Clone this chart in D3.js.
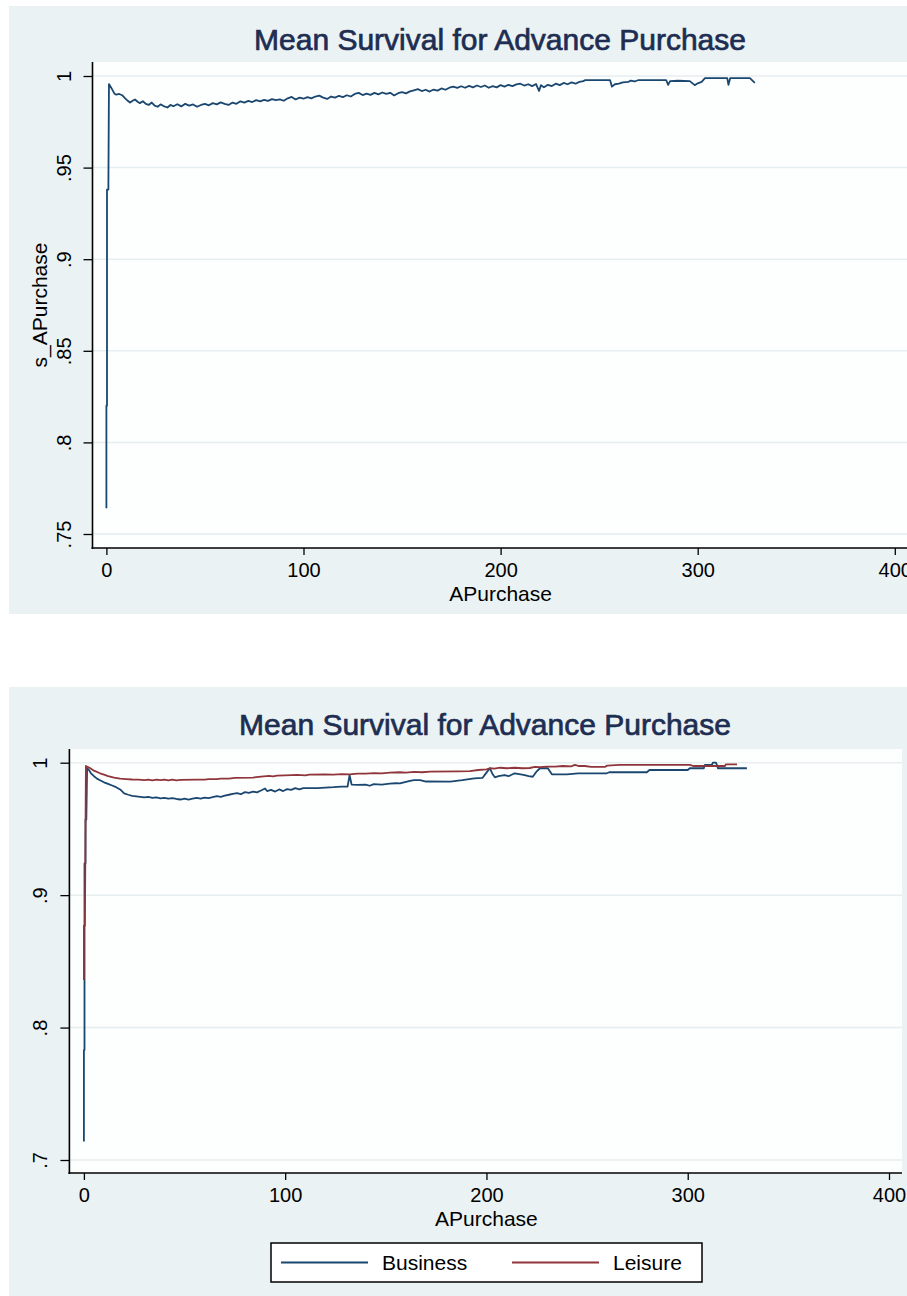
<!DOCTYPE html>
<html>
<head>
<meta charset="utf-8">
<script src="https://cdn.jsdelivr.net/npm/d3@7"></script>
<style>
  body { margin: 0; background: #fff; }
  text { font-family: "Liberation Sans", Arial, sans-serif; }
</style>
</head>
<body>
<div id="chart"></div>
<script>
// values
const chartTitle = "Mean Survival for Advance Purchase";
const xLabel = "APurchase";
const yLabelTop = "s_APurchase";
const xTicks = [0, 100, 200, 300, 400];
const topYTicks = [0.75, 0.8, 0.85, 0.9, 0.95, 1];
const bottomYTicks = [0.7, 0.8, 0.9, 1];
const seriesNames = ["Business", "Leisure"];

// [APurchase, survival]
const overall = [
  [0,.764],[0,.82],[0.3,.82],[0.3,.938],[1,.938],[1.3,.9956],[2.5,.9935],[4,.9905],[5,.9898],[6.5,.9902],
  [8,.9895],[9.5,.9878],[10.5,.9868],[12,.9855],[13.5,.9866],[14.5,.9872],[16,.9858],[17,.9852],[18.5,.9862],[20,.9848],
  [21.5,.9842],[23,.9855],[24.5,.9838],[26,.9832],[27.5,.9845],[29,.9836],[31,.9828],[32.5,.9842],[34,.9835],[36,.9846],
  [38,.9834],[40,.9848],[42,.9838],[44,.9845],[46,.9832],[48,.9842],[50,.9848],[52,.984],[54,.9852],[56,.9845],
  [58,.9856],[60,.9848],[62,.9842],[64,.9855],[66,.9848],[68,.9862],[70,.9855],[72,.9864],[74,.9858],[76,.9868],
  [78,.9862],[80,.987],[82,.9864],[84,.9874],[86,.9868],[88,.9872],[90,.9865],[92,.9878],[94,.9886],[96,.9872],
  [98,.9882],[100,.9876],[102,.9885],[104,.9878],[106,.9888],[108,.9893],[110,.9882],[112,.9875],[114,.9888],[116,.9882],
  [118,.9892],[120,.9885],[122,.9895],[124,.9888],[126,.9902],[128,.9908],[130,.9896],[132,.9904],[134,.9897],[136,.9908],
  [138,.99],[140,.991],[142,.9902],[144,.9908],[146,.9894],[148,.9906],[150,.9912],[152,.9905],[154,.9916],[156,.9922],
  [158,.9928],[160,.9918],[162,.9925],[164,.9915],[166,.9926],[168,.992],[170,.9932],[172,.9925],[174,.9936],[176,.9942],
  [178,.9935],[180,.9944],[182,.9936],[184,.9946],[186,.9938],[188,.9948],[190,.994],[192,.9948],[194,.9936],[196,.9945],
  [198,.9938],[200,.995],[202,.9942],[204,.9952],[206,.9945],[208,.9954],[210,.9958],[212,.9948],[214,.9955],[216,.9945],
  [218,.9956],[219.5,.9918],[220.5,.995],[222,.9938],[224,.9952],[226,.9945],[228,.9958],[230,.995],[232,.9962],[234,.9955],
  [236,.9965],[238,.9958],[240,.9968],[242,.9972],[243,.9978],[255.5,.9978],[256.5,.9942],[258,.9955],[260,.9958],[262,.9965],
  [265,.9968],[266,.9975],[268,.997],[270,.9978],[284,.9978],[285,.9952],[286,.9972],[290,.9974],[296,.9972],[298.5,.995],
  [300,.996],[302,.9968],[303.7,.9988],[315,.9988],[315.6,.9952],[316.5,.9988],[326.5,.9988],[329,.9962]
];

const business = [
  [0,.714],[0,.783],[0.3,.783],[0.3,.924],[0.8,.924],[0.8,.957],[1.2,.957],[1.6,.996],[2.5,.9945],[3.5,.992],
  [5,.9898],[6.5,.988],[8,.9868],[10,.9852],[12,.984],[14,.9828],[16,.9815],[18,.9798],[20,.9768],[22,.9758],
  [24,.975],[26,.9746],[28,.9742],[30,.9738],[32,.9742],[34,.9735],[36,.9738],[38,.9731],[40,.9735],[42,.9728],
  [44,.9732],[46,.9726],[48,.9722],[50,.9728],[52,.9722],[54,.9728],[56,.9734],[58,.9728],[60,.9736],[62,.9732],
  [64,.974],[66,.9748],[68,.9742],[70,.9752],[72,.9758],[74,.9765],[76,.977],[78,.9762],[80,.9778],[82,.9772],
  [84,.9782],[86,.9776],[88,.979],[90,.9805],[91,.9786],[93,.9795],[95,.9782],[97,.9798],[99,.9786],[101,.98],
  [103,.9795],[105,.9808],[107,.9798],[109,.9808],[116,.9808],[120,.9812],[124,.9815],[128,.982],[131,.982],[132,.9905],
  [133,.9835],[136,.9832],[140,.9835],[142,.9826],[144,.9838],[148,.9835],[152,.9842],[155,.9845],[157,.9844],[160,.9855],
  [162,.9862],[164,.9868],[167,.9869],[170,.9858],[182,.9857],[188,.9868],[194,.9882],[198,.9885],[200,.9925],[201.7,.9958],
  [203,.9915],[204.2,.989],[206,.9898],[209,.9907],[211,.9898],[214,.992],[217,.9912],[219,.9907],[221,.9898],[223,.9894],
  [225,.9935],[226.6,.9958],[230.5,.9958],[232.5,.9912],[240,.9912],[245.5,.992],[259.8,.992],[261,.9928],[279.7,.9928],[281,.9945],
  [300,.9945],[301,.9958],[308,.9958],[308.5,.9983],[312,.9983],[312.5,1.0],[314,1.0],[314.5,.9983],[315,.9958],[329.4,.9958]
];

const leisure = [
  [0,.836],[0,.877],[0.5,.877],[1,.9975],[3,.996],[5,.994],[8,.992],[10,.991],[12,.9898],[15,.9888],
  [18,.988],[21,.9876],[24,.9873],[27,.9872],[30,.9868],[32,.9872],[34,.9866],[36,.9872],[38,.9868],[40,.9872],
  [42,.9866],[44,.9872],[46,.9866],[48,.987],[56,.9872],[60,.9872],[62,.9876],[66,.9876],[68,.988],[72,.988],
  [75,.9885],[84,.9888],[88,.9895],[92,.99],[94,.9896],[96,.9902],[100,.9905],[106,.9908],[110,.9905],[112,.991],
  [120,.9912],[124,.991],[128,.9914],[132,.9912],[136,.9918],[140,.9918],[144,.9922],[148,.992],[152,.9925],[157,.9928],
  [160,.9925],[164,.993],[168,.9928],[172,.9932],[186,.9935],[191.8,.9937],[196,.9945],[200,.995],[201.7,.9958],[204,.9955],
  [206.7,.9962],[210,.9958],[214,.9962],[218,.9958],[221.6,.996],[224,.9968],[226.6,.9966],[230,.997],[234,.997],[238,.9975],
  [242,.9972],[244,.9983],[246,.9975],[248.9,.9975],[252,.9968],[258.8,.9968],[260,.9978],[266.3,.9983],[301,.9983],[303,.9975],
  [318.5,.9975],[319,.9988],[324.5,.9988]
];

const panelColor = "#eaf2f3";
const gridColor = "#e6eef0";
const titleColor = "#1e2d52";
const lineColors = ["#1a476f", "#90353b"];
const fmt = d => String(d).replace(/^0\./, ".");

const svg = d3.select("#chart").append("svg")
  .attr("width", 907)
  .attr("height", 1296);

function drawChart(o) {
  const g = svg.append("g");

  // outer graph region + plot region
  g.append("rect")
    .attr("x", o.panel[0]).attr("y", o.panel[1])
    .attr("width", o.panel[2]).attr("height", o.panel[3])
    .attr("fill", panelColor);
  g.append("rect")
    .attr("x", o.plot.left).attr("y", o.plot.top)
    .attr("width", o.plot.right - o.plot.left).attr("height", o.plot.bottom - o.plot.top)
    .attr("fill", "#fdfefe");

  const x = d3.scaleLinear().domain([0, 400]).range(o.xRange);
  const y = d3.scaleLinear().domain(o.yDomain).range(o.yRange);

  // gridlines
  g.selectAll(".grid")
    .data(o.yTicks)
    .enter().append("line")
    .attr("x1", o.plot.left).attr("x2", o.plot.right)
    .attr("y1", d => y(d)).attr("y2", d => y(d))
    .attr("stroke", gridColor).attr("stroke-width", 1.5);

  // title
  g.append("text")
    .attr("x", o.titleX).attr("y", o.titleY)
    .attr("text-anchor", "middle")
    .attr("font-size", 30)
    .attr("fill", titleColor)
    .attr("stroke", titleColor).attr("stroke-width", 0.7)
    .text(chartTitle);

  // lines
  const line = d3.line().x(d => x(d[0])).y(d => y(d[1]));
  o.series.forEach((s, i) => {
    g.append("path")
      .datum(s.values)
      .attr("fill", "none")
      .attr("stroke", s.color)
      .attr("stroke-width", 1.8)
      .attr("stroke-linejoin", "round")
      .attr("d", line);
  });

  // x axis
  const xAxis = g.append("g")
    .attr("transform", `translate(0,${o.plot.bottom})`)
    .call(d3.axisBottom(x).tickValues(xTicks).tickSize(7).tickPadding(8).tickFormat(d3.format("d")));
  xAxis.select(".domain").remove();
  xAxis.selectAll(".tick line").attr("stroke", "#000").attr("stroke-width", 1.3);
  xAxis.selectAll(".tick text").attr("font-size", 20).attr("fill", "#000")
    .attr("font-family", "'Liberation Sans', Arial, sans-serif");
  g.append("line")
    .attr("x1", o.plot.left - 1).attr("x2", o.plot.right)
    .attr("y1", o.plot.bottom).attr("y2", o.plot.bottom)
    .attr("stroke", "#000").attr("stroke-width", 1.6);

  g.append("text")
    .attr("x", x(200)).attr("y", o.plot.bottom + 53)
    .attr("text-anchor", "middle")
    .attr("font-size", 21)
    .text(xLabel);

  // y axis, rotated labels as Stata draws them
  const yAxis = g.append("g")
    .attr("transform", `translate(${o.plot.left},0)`)
    .call(d3.axisLeft(y).tickValues(o.yTicks).tickSize(9).tickFormat(fmt));
  yAxis.select(".domain").remove();
  yAxis.selectAll(".tick line").attr("stroke", "#000").attr("stroke-width", 1.3);
  yAxis.selectAll(".tick text")
    .attr("x", null).attr("dy", null)
    .attr("font-size", 20).attr("fill", "#000")
    .attr("font-family", "'Liberation Sans', Arial, sans-serif")
    .attr("text-anchor", "middle")
    .attr("transform", "translate(-22,0) rotate(-90)");
  g.append("line")
    .attr("x1", o.plot.left).attr("x2", o.plot.left)
    .attr("y1", o.plot.top).attr("y2", o.plot.bottom + 1)
    .attr("stroke", "#000").attr("stroke-width", 1.6);

  if (o.yLabel) {
    g.append("text")
      .attr("transform", `translate(${o.yLabelX},${(o.plot.top + o.plot.bottom) / 2}) rotate(-90)`)
      .attr("text-anchor", "middle")
      .attr("font-size", 21)
      .text(o.yLabel);
  }

  // legend
  if (o.legend) {
    const L = o.legend;
    g.append("rect")
      .attr("x", L.x).attr("y", L.y).attr("width", L.w).attr("height", L.h)
      .attr("fill", "#fff").attr("stroke", "#000").attr("stroke-width", 1.5);
    o.series.forEach((s, i) => {
      const lx = L.x + 10 + i * 231;
      g.append("line")
        .attr("x1", lx).attr("x2", lx + 87)
        .attr("y1", L.y + L.h / 2).attr("y2", L.y + L.h / 2)
        .attr("stroke", s.color).attr("stroke-width", 1.8);
      g.append("text")
        .attr("x", lx + 101).attr("y", L.y + L.h / 2 + 7)
        .attr("font-size", 21)
        .text(s.name);
    });
  }
}

drawChart({
  panel: [9, 6, 920, 608],
  plot: { left: 92.5, right: 920, top: 62, bottom: 548 },
  xRange: [106.4, 894.8],
  yDomain: [0.75, 1],
  yRange: [534, 76],
  yTicks: topYTicks,
  titleX: 500, titleY: 50,
  yLabel: yLabelTop, yLabelX: 47,
  series: [{ name: "overall", values: overall, color: lineColors[0] }]
});

drawChart({
  panel: [9, 687, 920, 620],
  plot: { left: 69.4, right: 902, top: 749, bottom: 1173 },
  xRange: [83.9, 889],
  yDomain: [0.7, 1],
  yRange: [1160, 762.7],
  yTicks: bottomYTicks,
  titleX: 485, titleY: 735,
  legend: { x: 271, y: 1243, w: 431, h: 39 },
  series: seriesNames.map((n, i) => ({
    name: n,
    values: i === 0 ? business : leisure,
    color: lineColors[i]
  }))
});
</script>
</body>
</html>
